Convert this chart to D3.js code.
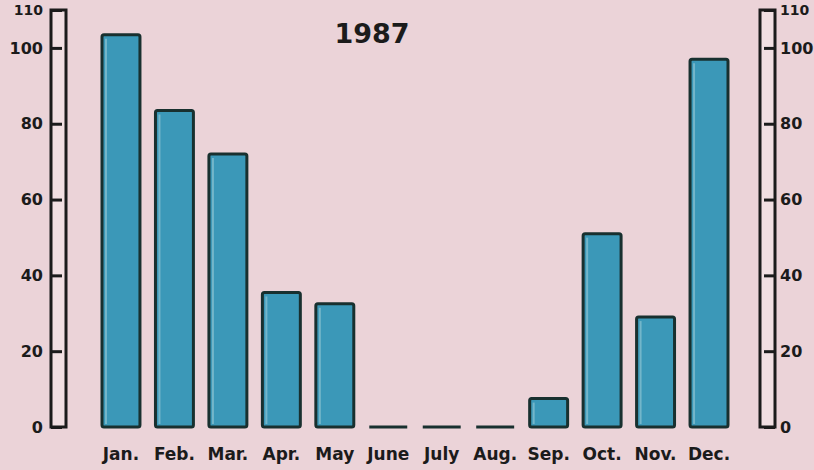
<!DOCTYPE html>
<html>
<head>
<meta charset="utf-8">
<script src="https://cdn.jsdelivr.net/npm/d3@7"></script>
<style>
  html, body { margin: 0; padding: 0; background: #ebd3d8; }
  svg { display: block; }
  text { font-family: "DejaVu Sans", sans-serif; font-weight: bold; fill: #1b1b1b; }
</style>
</head>
<body>
<svg id="chart"></svg>
<script>
const months = ["Jan.", "Feb.", "Mar.", "Apr.", "May", "June", "July", "Aug.", "Sep.", "Oct.", "Nov.", "Dec."];
const rainfall = [103.5, 83.5, 72, 35.5, 32.5, 0, 0, 0, 7.5, 51, 29, 97];
const tickValues = [0, 20, 40, 60, 80, 100, 110];
const title = "1987";

const width = 814, height = 470;
const svg = d3.select("#chart").attr("width", width).attr("height", height);

svg.append("rect").attr("width", width).attr("height", height).attr("fill", "#ebd3d8");

const y = d3.scaleLinear().domain([0, 110]).range([427, 10]);
const x = d3.scaleBand().domain(months).range([86.5, 743.5]).padding(0.29);

// scale columns on both sides
const columns = [{ x0: 51, x1: 66, side: "left" }, { x0: 760, x1: 775, side: "right" }];
columns.forEach(c => {
  svg.append("rect")
    .attr("x", c.x0).attr("y", y(110))
    .attr("width", c.x1 - c.x0).attr("height", y(0) - y(110))
    .attr("fill", "#f1dfe2").attr("stroke", "#1b1b1b").attr("stroke-width", 3);

  const axis = (c.side === "left" ? d3.axisLeft(y) : d3.axisRight(y))
    .tickValues(tickValues).tickSize(-11).tickPadding(c.side === "left" ? 8 : 5)
    .tickFormat(d3.format("d"));

  const g = svg.append("g")
    .attr("transform", `translate(${c.side === "left" ? c.x0 : c.x1},0)`)
    .call(axis);
  g.select(".domain").remove();
  g.selectAll(".tick line").attr("stroke", "#1b1b1b").attr("stroke-width", 3);
  g.selectAll(".tick text")
    .attr("font-size", d => d === 110 ? 14 : 16)
    .attr("font-family", "DejaVu Sans")
    .attr("font-weight", "bold")
    .attr("fill", "#1b1b1b");
});

// bars
const bars = svg.append("g");
bars.selectAll("rect")
  .data(months.filter((m, i) => rainfall[i] > 0))
  .join("rect")
  .attr("x", d => x(d))
  .attr("y", d => y(rainfall[months.indexOf(d)]))
  .attr("width", x.bandwidth())
  .attr("height", d => y(0) - y(rainfall[months.indexOf(d)]))
  .attr("fill", "#3b98b8")
  .attr("stroke", "#18302f")
  .attr("stroke-width", 3)
  .attr("rx", 2);

// light stripe along the left edge of each bar
bars.selectAll("line.hl")
  .data(months.filter((m, i) => rainfall[i] > 0))
  .join("line")
  .attr("class", "hl")
  .attr("x1", d => x(d) + 4).attr("x2", d => x(d) + 4)
  .attr("y1", d => y(rainfall[months.indexOf(d)]) + 4)
  .attr("y2", y(0) - 3)
  .attr("stroke", "#8cc3d2").attr("stroke-width", 2).attr("opacity", 0.7);

// zero months drawn as a dash on the baseline
bars.selectAll("line.zero")
  .data(months.filter((m, i) => rainfall[i] === 0))
  .join("line")
  .attr("class", "zero")
  .attr("x1", d => x(d)).attr("x2", d => x(d) + x.bandwidth())
  .attr("y1", y(0)).attr("y2", y(0))
  .attr("stroke", "#18302f").attr("stroke-width", 3);

// month labels
svg.append("g").selectAll("text")
  .data(months)
  .join("text")
  .attr("x", d => x(d) + x.bandwidth() / 2)
  .attr("y", 460)
  .attr("text-anchor", "middle")
  .attr("font-size", 17)
  .text(d => d);

svg.append("text")
  .attr("x", 372).attr("y", 43)
  .attr("text-anchor", "middle")
  .attr("font-size", 27)
  .text(title);
</script>
</body>
</html>
